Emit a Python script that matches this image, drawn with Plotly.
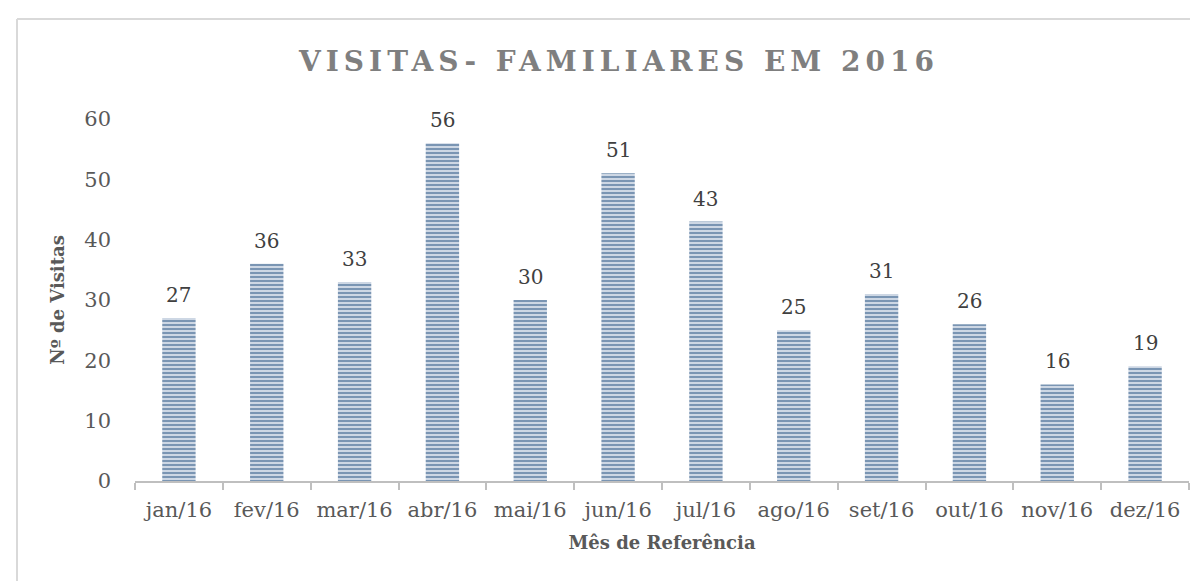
import plotly.graph_objects as go

months = ["jan/16", "fev/16", "mar/16", "abr/16", "mai/16", "jun/16",
          "jul/16", "ago/16", "set/16", "out/16", "nov/16", "dez/16"]
visitas = [27, 36, 33, 56, 30, 51, 43, 25, 31, 26, 16, 19]

title_text = "VISITAS- FAMILIARES EM 2016"
x_title = "Mês de Referência"
y_title = "Nº de Visitas"

FONT = "DejaVu Serif"

fig = go.Figure()
fig.add_trace(go.Bar(
    x=months, y=visitas,
    marker=dict(
        color="#d6dfea",
        line=dict(width=0),
        pattern=dict(shape="-", fgcolor="#7a95b3", bgcolor="#d6dfea",
                     size=4, solidity=0.55, fillmode="replace"),
    ),
    hoverinfo="skip",
))

for m, v in zip(months, visitas):
    fig.add_annotation(x=m, y=v, text=str(v), showarrow=False,
                       yanchor="bottom", yshift=9,
                       font=dict(family=FONT, size=20, color="#404040"))

L, R, T, B = 127, 17, 111, 108
W, H = 1198, 581
pw, ph = W - L - R, H - T - B

def px2x(px):
    return (px - L) / pw

def py2y(py):
    return (H - B - py) / ph

fig.update_layout(
    width=W, height=H,
    margin=dict(l=L, r=R, t=T, b=B),
    paper_bgcolor="white", plot_bgcolor="white",
    bargap=0.62,
    showlegend=False,
    title=dict(text='<b><span style="letter-spacing:5px">' + title_text + "</span></b>",
               x=0.51, xanchor="center",
               y=1 - 53 / H, yanchor="middle",
               font=dict(family=FONT, size=28, color="#7f7f7f")),
    xaxis=dict(
        showline=True, linecolor="#bfbfbf", linewidth=2,
        ticks="outside", tickson="boundaries", ticklen=7, tickwidth=2,
        tickcolor="#bfbfbf", ticklabelstandoff=9,
        tickfont=dict(family=FONT, size=21, color="#595959"),
        title=dict(text="<b>" + x_title + "</b>", standoff=15,
                   font=dict(family=FONT, size=18, color="#595959")),
        showgrid=False,
    ),
    yaxis=dict(
        range=[0, 60], dtick=10, showgrid=False, zeroline=False,
        showline=False, ticks="", ticklabelstandoff=23,
        tickfont=dict(family=FONT, size=21, color="#595959"),
        title=dict(text="<b>" + y_title + "</b>", standoff=14,
                   font=dict(family=FONT, size=18, color="#595959")),
    ),
    shapes=[
        dict(type="line", xref="paper", yref="paper",
             x0=px2x(9), x1=px2x(1198), y0=py2y(11), y1=py2y(11),
             line=dict(color="#d9d9d9", width=2)),
        dict(type="line", xref="paper", yref="paper",
             x0=px2x(9), x1=px2x(9), y0=py2y(11), y1=py2y(581),
             line=dict(color="#d9d9d9", width=2)),
    ],
)

fig.write_html("out.html")
